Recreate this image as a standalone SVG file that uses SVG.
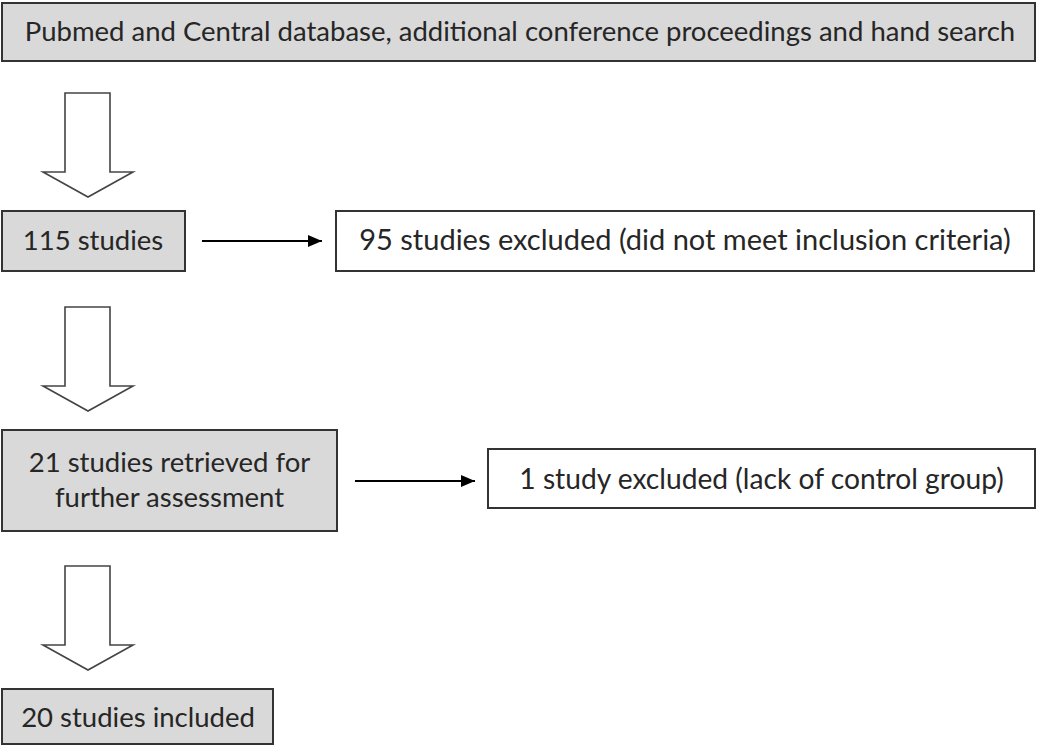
<svg xmlns="http://www.w3.org/2000/svg" width="1038" height="746" viewBox="0 0 1038 746">
<style>
.box{stroke:#333;stroke-width:2}
.g{fill:#d9d9d9}
.w{fill:#fff}
.blk{fill:#fff;stroke:#444;stroke-width:1.6;stroke-linejoin:miter}
.t{font-family:Lato,"Liberation Sans",sans-serif;font-size:27.5px;fill:#262626;text-anchor:middle}
.ln{stroke:#000;stroke-width:2;fill:none}
</style>
<defs>
<marker id="ah" markerWidth="14" markerHeight="12" refX="14" refY="6" orient="auto" markerUnits="userSpaceOnUse" viewBox="0 0 14 12">
<path d="M0,0 L14,6 L0,12 Z" fill="#000"/>
</marker>
<path id="bigarrow" d="M65,0 H110 V79 H133 L88,104 L43,79 H65 Z"/>
</defs>
<rect width="1038" height="746" fill="#fff"/>
<g id="n-search">
<rect class="box g" x="2" y="3" width="1033" height="58"/>
<text class="t" x="520" y="41">Pubmed and Central database, additional conference proceedings and hand search</text>
</g>
<g id="n-115">
<rect class="box g" x="2" y="211" width="183" height="60"/>
<text class="t" x="93" y="250">115 studies</text>
</g>
<g id="n-95">
<rect class="box w" x="336" y="211" width="698" height="60"/>
<text class="t" x="685" y="250" style="font-size:29px">95 studies excluded (did not meet inclusion criteria)</text>
</g>
<g id="n-21">
<rect class="box g" x="2" y="430" width="335" height="101"/>
<text class="t" x="169.5" y="472">21 studies retrieved for</text>
<text class="t" x="169.5" y="507">further assessment</text>
</g>
<g id="n-1">
<rect class="box w" x="488" y="449" width="547" height="59"/>
<text class="t" x="761.5" y="489" style="font-size:28.2px">1 study excluded (lack of control group)</text>
</g>
<g id="n-20">
<rect class="box g" x="2" y="689" width="271" height="55"/>
<text class="t" x="138" y="727">20 studies included</text>
</g>
<g id="connectors">
<use href="#bigarrow" class="blk" transform="translate(0,93)"/>
<use href="#bigarrow" class="blk" transform="translate(0,307)"/>
<use href="#bigarrow" class="blk" transform="translate(0,566)"/>
<line class="ln" x1="202" y1="241" x2="322" y2="241" marker-end="url(#ah)"/>
<line class="ln" x1="355" y1="481" x2="475" y2="481" marker-end="url(#ah)"/>
</g>
</svg>
